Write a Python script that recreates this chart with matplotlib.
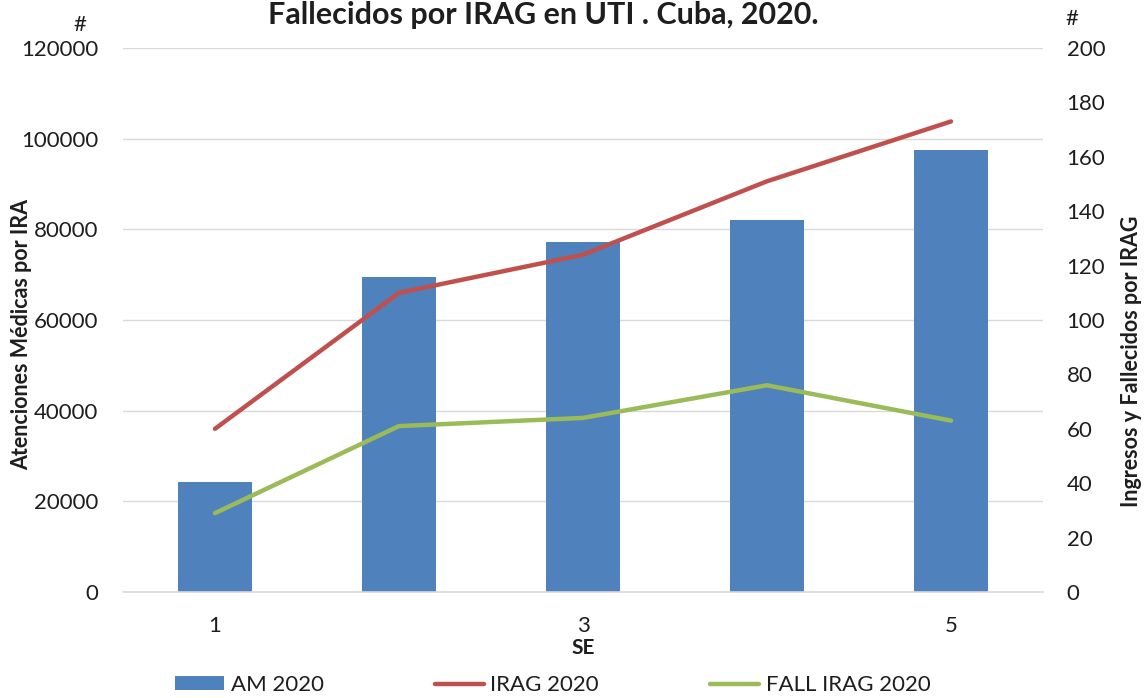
from matplotlib import pyplot as plt

plt.rcParams['font.family'] = ['Lato', 'DejaVu Sans']

# datos
semanas = [1, 2, 3, 4, 5]
etiquetas_se = ['1', '2', '3', '4', '5']
am_2020 = [24300, 69400, 77200, 82000, 97500]
irag_2020 = [60, 110, 124, 151, 173]
fall_irag_2020 = [29, 61, 64, 76, 63]

azul = '#4F81BD'
rojo = '#C0504D'
verde = '#9BBB59'
gris = '#D9D9D9'
texto = '#1e1e1e'

W, H = 1148, 698
fig = plt.figure(figsize=(W / 100, H / 100), dpi=100)
ax = fig.add_axes([123 / W, 1 - 592 / H, (1043 - 123) / W, (592 - 48) / H])
ax2 = ax.twinx()

barras = ax.bar(semanas, am_2020, width=0.4, color=azul, zorder=2, label='AM 2020')
l1, = ax2.plot(semanas, irag_2020, color=rojo, lw=3.2, solid_capstyle='round', label='IRAG 2020')
l2, = ax2.plot(semanas, fall_irag_2020, color=verde, lw=3.2, solid_capstyle='round', label='FALL IRAG 2020')

ax.set_xlim(0.5, 5.5)
ax.set_ylim(0, 120000)
ax.set_yticks(range(0, 120001, 20000))
ax2.set_ylim(0, 200)
ax2.set_yticks(range(0, 201, 20))
ax.set_xticks([1, 3, 5])
ax.set_xticklabels([etiquetas_se[0], etiquetas_se[2], etiquetas_se[4]])

ax.grid(axis='y', color=gris, lw=1, zorder=0)
ax.set_axisbelow(True)
for a in (ax, ax2):
    for s in a.spines.values():
        s.set_visible(False)
ax.spines['bottom'].set_visible(True)
ax.spines['bottom'].set_color(gris)
ax.spines['bottom'].set_linewidth(1.2)

ax.tick_params(axis='y', length=0, pad=18, labelsize=16, labelcolor=texto)
ax.tick_params(axis='x', length=0, pad=17, labelsize=16, labelcolor=texto)
ax2.tick_params(axis='y', length=0, pad=17, labelsize=16, labelcolor=texto)

ax.set_xlabel('SE', fontsize=15, fontweight='bold', color=texto, labelpad=2)

fig.text(22 / W, 1 - 335 / H, 'Atenciones Médicas por IRA', rotation=90,
         ha='center', va='center', fontsize=15.5, fontweight='bold', color=texto)
fig.text(1132 / W, 1 - 361 / H, 'Ingresos y Fallecidos por IRAG', rotation=90,
         ha='center', va='center', fontsize=15.5, fontweight='bold', color=texto)

fig.text(80 / W, 1 - 25 / H, '#', ha='center', va='center', fontsize=16, color=texto)
fig.text(1072 / W, 1 - 19 / H, '#', ha='center', va='center', fontsize=16, color=texto)

# titulo pegado al borde superior
fig.text(543 / W, 1 - 24 / H, 'Fallecidos por IRAG en UTI . Cuba, 2020.',
         ha='center', va='baseline', fontsize=22, fontweight='bold', color=texto)

fig.legend([barras, l1, l2], ['AM 2020', 'IRAG 2020', 'FALL IRAG 2020'],
           loc='center left', bbox_to_anchor=(175 / W, 1 - 685 / H), ncol=3,
           frameon=False, fontsize=16, handlelength=2.2, handleheight=0.6,
           handletextpad=0.3, columnspacing=5.0, borderpad=0, borderaxespad=0,
           labelcolor=texto)

fig.savefig('out.png', dpi=100)
